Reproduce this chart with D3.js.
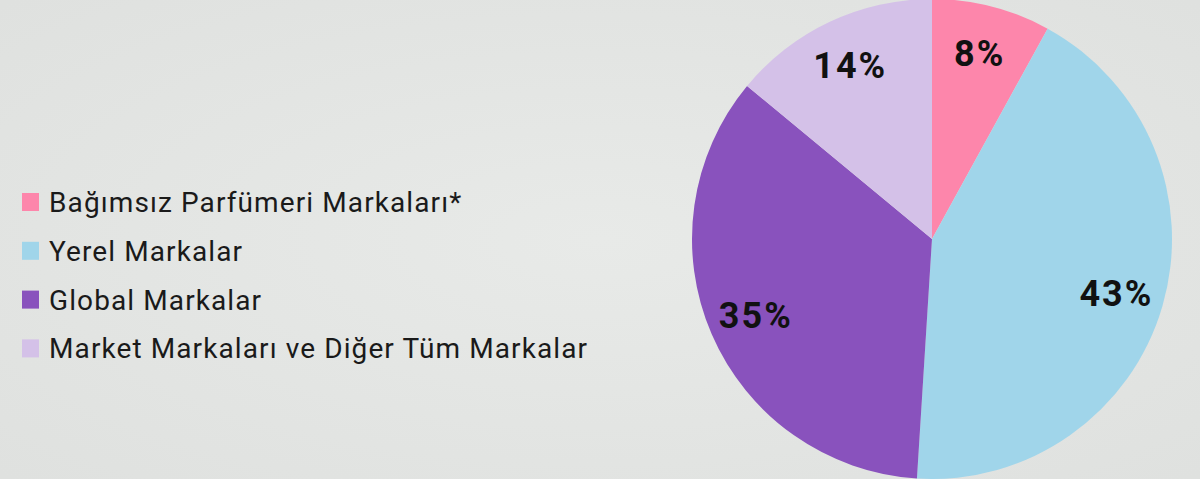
<!DOCTYPE html>
<html>
<head>
<meta charset="utf-8">
<script src="https://cdn.jsdelivr.net/npm/d3@7"></script>
<style>
  body { margin: 0; background: #e2e4e2; }
  svg { display: block; }
</style>
</head>
<body>
<script>
const w = 1200;
const h = 479;

// slices, clockwise from 12 o'clock
const categories = ["Bağımsız Parfümeri Markaları*", "Yerel Markalar", "Global Markalar", "Market Markaları ve Diğer Tüm Markalar"];
const shares = [8, 43, 35, 14];
const colors = ["#fd86ab", "#a0d5ea", "#8952bd", "#d4c1e8"];

const svg = d3.select("body")
              .append("svg")
              .attr("width", w)
              .attr("height", h);

// soft background shading
const defs = svg.append("defs");
const bg = defs.append("radialGradient").attr("id", "bg").attr("cx", "0.5").attr("cy", "0.5").attr("r", "0.7");
bg.append("stop").attr("offset", "0%").attr("stop-color", "#e8eae8");
bg.append("stop").attr("offset", "100%").attr("stop-color", "#dfe1df");
svg.append("rect").attr("width", w).attr("height", h).style("fill", "url(#bg)");

const cx = 932, cy = 239, r = 240;

const pie = d3.pie().sort(null).value(d => d)(shares);
const arc = d3.arc().innerRadius(0).outerRadius(r);
const labelArc = d3.arc().innerRadius(192).outerRadius(192);

const g = svg.append("g").attr("transform", `translate(${cx},${cy})`);

g.selectAll("path")
 .data(pie)
 .enter()
 .append("path")
 .attr("d", arc)
 .style("fill", (d, i) => colors[i]);

g.selectAll("text")
 .data(pie)
 .enter()
 .append("text")
 .attr("transform", d => `translate(${labelArc.centroid(d)})`)
 .attr("text-anchor", "middle")
 .attr("dy", "0.36em")
 .style("font-family", "Roboto, sans-serif")
 .style("font-weight", 700)
 .style("font-size", "36px")
 .style("letter-spacing", "2px")
 .style("fill", "#111")
 .text(d => d.data + "%");

// legend
const legend = svg.append("g");
const rows = legend.selectAll("g")
   .data(categories)
   .enter()
   .append("g")
   .attr("transform", (d, i) => `translate(22, ${202 + i * 48.8})`);

rows.append("rect")
    .attr("x", 0)
    .attr("y", -9)
    .attr("width", 17)
    .attr("height", 18)
    .style("fill", (d, i) => colors[i]);

rows.append("text")
    .attr("x", 27)
    .attr("dy", "0.36em")
    .style("font-family", "Roboto, sans-serif")
    .style("font-size", "28px")
    .style("letter-spacing", "1.1px")
    .style("fill", "#1a1a1a")
    .text(d => d);
</script>
</body>
</html>
